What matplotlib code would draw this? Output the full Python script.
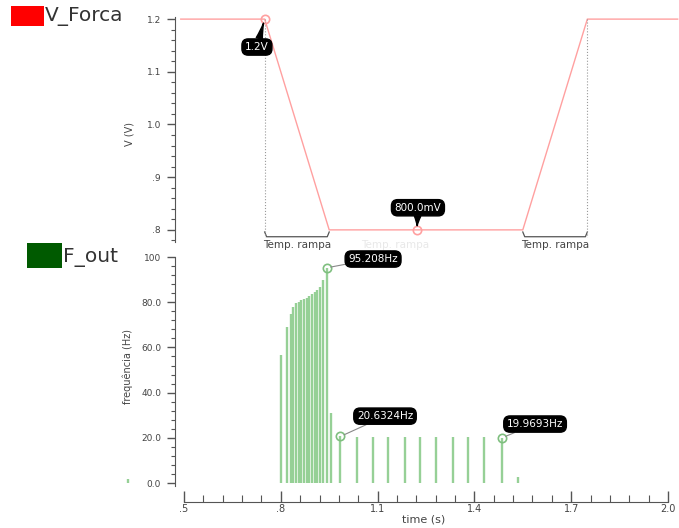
import matplotlib
matplotlib.use("Agg")
import matplotlib.pyplot as plt
from matplotlib.patches import Rectangle
from matplotlib.ticker import AutoMinorLocator

# ---- data -------------------------------------------------------------
v_time = [0.49, 0.75, 0.95, 1.55, 1.75, 2.03]
v_force = [1.2, 1.2, 0.8, 0.8, 1.2, 1.2]

f_time = [0.325, 0.800, 0.818, 0.831, 0.839, 0.847, 0.855, 0.864, 0.872,
          0.880, 0.888, 0.897, 0.905, 0.913, 0.921, 0.930, 0.942, 0.956,
          0.985, 1.035, 1.085, 1.133, 1.185, 1.231, 1.281, 1.333, 1.381,
          1.431, 1.485, 1.535]
f_out = [2.0, 56.6, 68.9, 74.8, 77.7, 79.5, 80.2, 81.0, 81.4, 82.0, 82.7,
         83.6, 84.4, 85.4, 86.6, 89.8, 95.208, 31.1, 20.6324, 20.3, 20.3,
         20.3, 20.4, 20.3, 20.2, 20.3, 20.2, 20.3, 19.9693, 2.5]

v_marks = [(0.75, 1.2, "1.2V"), (1.222, 0.8, "800.0mV")]
f_marks = [(0.942, 95.208, "95.208Hz"), (0.985, 20.6324, "20.6324Hz"),
           (1.485, 19.9693, "19.9693Hz")]
ramps = [(0.75, 0.95), (1.55, 1.75)]

v_ticks = [0.8, 0.9, 1.0, 1.1, 1.2]
v_tick_labels = [".8", ".9", "1.0", "1.1", "1.2"]
f_ticks = [0, 20, 40, 60, 80, 100]
f_tick_labels = ["0.0", "20.0", "40.0", "60.0", "80.0", "100"]
t_ticks = [0.5, 0.8, 1.1, 1.4, 1.7, 2.0]
t_tick_labels = [".5", ".8", "1.1", "1.4", "1.7", "2.0"]

# ---- style ------------------------------------------------------------
W, H = 679, 528
RED_LINE = "#ffa0a0"
GREEN_BAR = "#96d096"
AX_COL = "#555555"
TXT_COL = "#444444"

fig = plt.figure(figsize=(W / 100, H / 100), dpi=100)


def fx(px):
    return px / W


def fy(py):
    return 1 - py / H


ax_v = fig.add_axes([fx(184), fy(242), fx(668) - fx(184), fy(17) - fy(242)])
ax_f = fig.add_axes([fx(184), fy(486), fx(668) - fx(184), fy(257) - fy(486)])

for ax in (ax_v, ax_f):
    ax.set_xlim(0.5, 2.0)
    ax.spines["top"].set_visible(False)
    ax.spines["right"].set_visible(False)
    ax.spines["left"].set_position(("outward", 9 * 0.72))
    ax.spines["left"].set_color(AX_COL)
    ax.yaxis.set_minor_locator(AutoMinorLocator(5))
    ax.tick_params(axis="y", which="major", length=6, width=1, color=AX_COL,
                   labelsize=6.5, labelcolor=TXT_COL, pad=4)
    ax.tick_params(axis="y", which="minor", length=3, width=0.8, color=AX_COL)
    ax.patch.set_alpha(0)

box = dict(boxstyle="round,pad=0.3,rounding_size=0.6", fc="black", ec="black")

# ---- voltage panel ----------------------------------------------------
ax_v.set_ylim(0.777, 1.204)
ax_v.spines["bottom"].set_visible(False)
ax_v.set_xticks([])
ax_v.set_yticks(v_ticks, v_tick_labels)
ax_v.plot(v_time, v_force, color=RED_LINE, lw=1.0, clip_on=False)

br_y = 0.787
hook = 0.009
for t0, t1 in ramps:
    ax_v.plot([t0, t0 + 0.006, t1 - 0.006, t1], [br_y + hook, br_y, br_y, br_y + hook],
              color="#555555", lw=0.9, clip_on=False)
    ax_v.text((t0 + t1) / 2, br_y - 0.016, "Temp. rampa", ha="center", va="center",
              fontsize=7.5, color=TXT_COL, clip_on=False)
# dotted guides at the ends of the ramps
for t in (ramps[0][0], ramps[1][1]):
    ax_v.plot([t, t], [1.2, br_y], color="#999999", lw=0.8, ls=":",
              clip_on=False)
ax_v.text(1.154, br_y - 0.016, "Temp. rampa", ha="center", va="center",
          fontsize=7.5, color="#e8e8e8", clip_on=False)

v_text_pos = [(0.726, 1.147), (1.225, 0.842)]
for (t, v, lab), (tx, ty) in zip(v_marks, v_text_pos):
    ax_v.plot([t], [v], "o", ms=6, mfc="none", mec=RED_LINE, mew=1.2,
              clip_on=False)
    ax_v.annotate(lab, xy=(t, v), xytext=(tx, ty), ha="center", va="center",
                  fontsize=7.5, color="white", bbox=box,
                  arrowprops=dict(arrowstyle="wedge,tail_width=0.6,shrink_factor=0.4",
                                  fc="black", ec="black", shrinkA=0, shrinkB=3))

fig.text(fx(130), fy(134), "V (V)", rotation=90, ha="center", va="center",
         fontsize=7, color=TXT_COL)

# ---- frequency panel --------------------------------------------------
ax_f.set_ylim(-1.3, 100)
ax_f.set_yticks(f_ticks, f_tick_labels)
ax_f.spines["bottom"].set_position(("outward", 16 * 0.72))
ax_f.spines["bottom"].set_bounds(0.5, 2.0)
ax_f.spines["bottom"].set_color(AX_COL)
ax_f.set_xticks(t_ticks, t_tick_labels)
ax_f.xaxis.set_minor_locator(AutoMinorLocator(5))
ax_f.tick_params(axis="x", which="major", direction="in", length=8, width=1,
                 color=AX_COL, labelsize=7, labelcolor=TXT_COL, pad=1.5)
ax_f.tick_params(axis="x", which="minor", direction="in", length=5, width=0.8,
                 color=AX_COL)

ax_f.vlines(f_time, 0, f_out, color=GREEN_BAR, lw=1.7, clip_on=False)

f_text_pos = [(1.086, 99.1), (1.123, 29.6), (1.588, 26.1)]
for (t, f, lab), (tx, ty) in zip(f_marks, f_text_pos):
    ax_f.plot([t], [f], "o", ms=6, mfc="none", mec="#7fbf7f", mew=1.2,
              clip_on=False)
    ax_f.annotate(lab, xy=(t, f), xytext=(tx, ty), ha="center", va="center",
                  fontsize=7.5, color="white", bbox=box,
                  arrowprops=dict(arrowstyle="-", color="#888888", lw=0.8,
                                  shrinkA=0, shrinkB=3))

fig.text(fx(128), fy(367), "frequência (Hz)", rotation=90, ha="center",
         va="center", fontsize=7, color=TXT_COL)
fig.text(fx(424), fy(520), "time (s)", ha="center", va="center",
         fontsize=8, color=TXT_COL)

# ---- legend swatches --------------------------------------------------
fig.patches.append(Rectangle((fx(11), fy(26)), fx(33), 20 / H,
                             transform=fig.transFigure, fc="#ff0000", ec="none"))
fig.text(fx(45), fy(16), "V_Forca", ha="left", va="center", fontsize=14.5,
         color="#333333")
fig.patches.append(Rectangle((fx(27), fy(268)), fx(35), 25 / H,
                             transform=fig.transFigure, fc="#005a00", ec="none"))
fig.text(fx(63), fy(257), "F_out", ha="left", va="center", fontsize=14.5,
         color="#333333")

fig.savefig("out.png", dpi=100)
